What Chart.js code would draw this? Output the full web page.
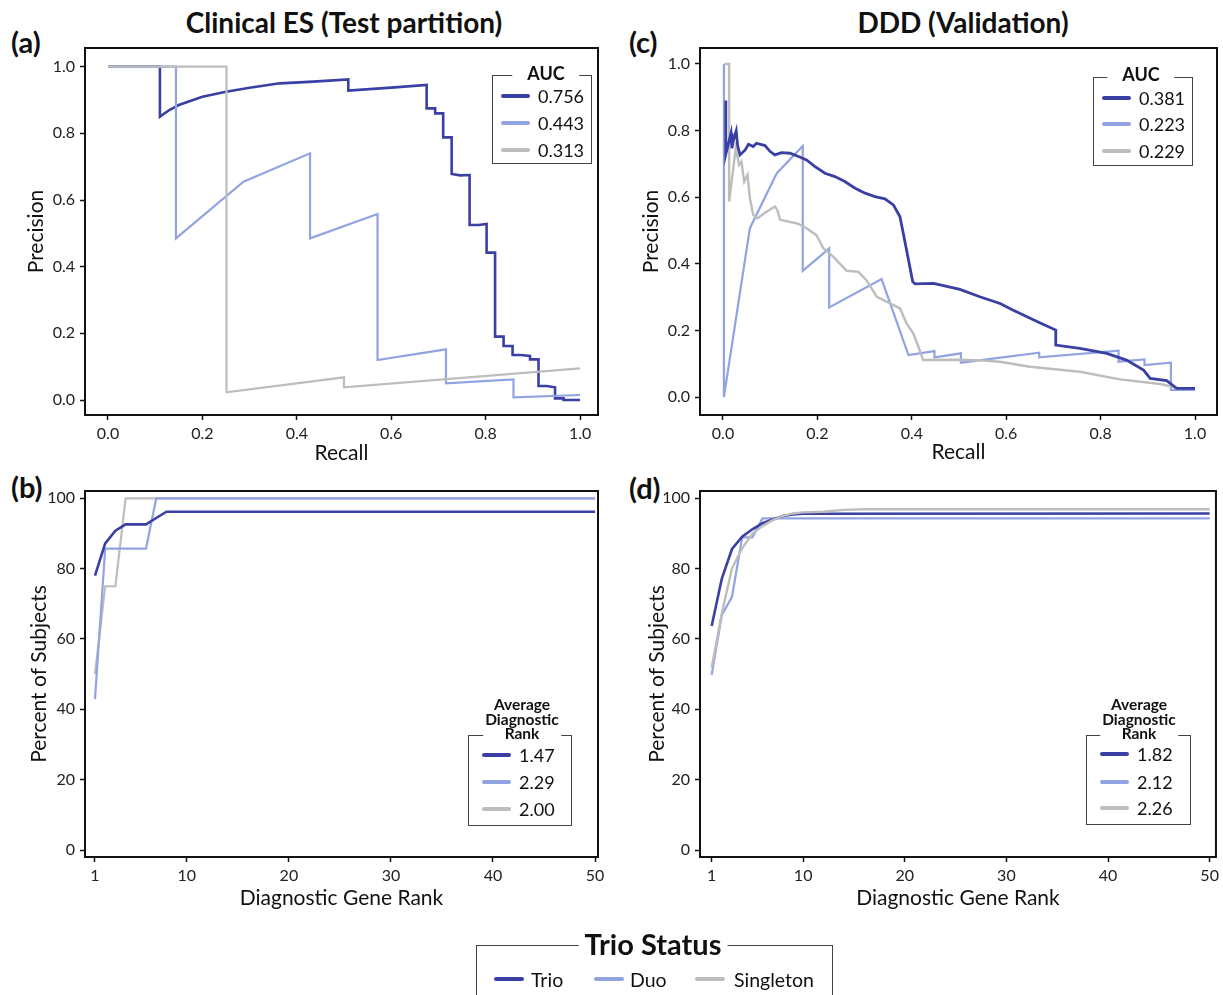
<!DOCTYPE html>
<html>
<head>
<meta charset="utf-8">
<script src="https://cdn.jsdelivr.net/npm/chart.js@4.4.1/dist/chart.umd.min.js"></script>
<style>
  body { margin: 0; background: #fff; font-family: Lato, sans-serif; color: #111; }
  #page { position: relative; width: 1223px; height: 995px; overflow: hidden; }
  .panel { position: absolute; }
  .title { position: absolute; font-weight: bold; font-size: 28px; white-space: nowrap; transform: translate(-50%, -50%); }
  .letter { position: absolute; font-weight: bold; font-size: 29px; transform: translateY(-50%); }
  .legend { position: absolute; border: 1.5px solid #444; box-sizing: border-box; }
  .legend .head { position: absolute; background: #fff; font-weight: bold; text-align: center; white-space: nowrap; transform: translate(-50%, -50%); }
  .legend .swatch { position: absolute; height: 4px; border-radius: 2px; transform: translateY(-50%); }
  .legend .lab { position: absolute; white-space: nowrap; transform: translateY(-50%); }
</style>
</head>
<body>
<div id="page">
  <div class="title" style="left:344px; top:22px;">Clinical ES (Test partition)</div>
  <div class="title" style="left:963px; top:22px;">DDD (Validation)</div>
  <div class="letter" style="left:11px; top:41px;">(a)</div>
  <div class="letter" style="left:629px; top:41px;">(c)</div>
  <div class="letter" style="left:11px; top:486px;">(b)</div>
  <div class="letter" style="left:629px; top:487px;">(d)</div>

  <div class="panel" style="left:0; top:0;"><canvas id="chartA" width="612" height="470"></canvas></div>
  <div class="panel" style="left:612px; top:0;"><canvas id="chartC" width="611" height="470"></canvas></div>
  <div class="panel" style="left:0; top:470px;"><canvas id="chartB" width="612" height="460"></canvas></div>
  <div class="panel" style="left:612px; top:470px;"><canvas id="chartD" width="611" height="460"></canvas></div>
</div>

<script>
// colours per trio status
const seriesNames = ['Trio', 'Duo', 'Singleton'];
const seriesColors = ['#3a3fa4', '#92a3e2', '#bdbdbd'];

// (a) Clinical ES, precision-recall
const aTrioRecall = [0, 0.110, 0.110, 0.13, 0.15, 0.2, 0.25, 0.3, 0.364, 0.435, 0.509, 0.509, 0.6, 0.675, 0.675, 0.693, 0.693, 0.710, 0.710, 0.728, 0.728, 0.746, 0.766, 0.766, 0.785, 0.802, 0.802, 0.820, 0.820, 0.838, 0.838, 0.857, 0.857, 0.874, 0.894, 0.894, 0.912, 0.912, 0.929, 0.947, 0.947, 0.965, 0.965, 1.0];
const aTrioPrecision = [1.0, 1.0, 0.85, 0.87, 0.885, 0.91, 0.925, 0.937, 0.95, 0.955, 0.962, 0.928, 0.937, 0.945, 0.875, 0.875, 0.86, 0.86, 0.788, 0.788, 0.678, 0.674, 0.675, 0.525, 0.525, 0.528, 0.442, 0.442, 0.19, 0.19, 0.162, 0.162, 0.135, 0.135, 0.132, 0.122, 0.122, 0.042, 0.042, 0.038, 0.005, 0.005, 0.0, 0.0];
const aDuoRecall = [0, 0.144, 0.144, 0.287, 0.428, 0.428, 0.571, 0.571, 0.716, 0.716, 0.859, 0.859, 1.0];
const aDuoPrecision = [1.0, 1.0, 0.485, 0.655, 0.74, 0.485, 0.558, 0.12, 0.152, 0.05, 0.062, 0.008, 0.015];
const aSingleRecall = [0, 0.251, 0.251, 0.50, 0.50, 1.0];
const aSinglePrecision = [1.0, 1.0, 0.023, 0.068, 0.038, 0.095];
const aAuc = ['0.756', '0.443', '0.313'];

// (c) DDD validation, precision-recall
const cTrioRecall = [0.006, 0.006, 0.017, 0.019, 0.022, 0.028, 0.031, 0.036, 0.047, 0.054, 0.064, 0.071, 0.089, 0.100, 0.110, 0.124, 0.142, 0.160, 0.177, 0.195, 0.216, 0.237, 0.258, 0.280, 0.301, 0.322, 0.343, 0.361, 0.375, 0.389, 0.402, 0.407, 0.446, 0.502, 0.544, 0.587, 0.614, 0.672, 0.705, 0.705, 0.756, 0.813, 0.855, 0.891, 0.905, 0.940, 0.961, 1.0];
const cTrioPrecision = [0.89, 0.729, 0.792, 0.747, 0.77, 0.799, 0.755, 0.727, 0.742, 0.759, 0.752, 0.762, 0.755, 0.737, 0.727, 0.734, 0.732, 0.722, 0.712, 0.692, 0.672, 0.662, 0.647, 0.627, 0.612, 0.602, 0.595, 0.577, 0.541, 0.441, 0.346, 0.34, 0.341, 0.323, 0.301, 0.281, 0.261, 0.222, 0.201, 0.156, 0.146, 0.131, 0.111, 0.081, 0.056, 0.049, 0.026, 0.026];
const cDuoRecall = [0.002, 0.002, 0.057, 0.114, 0.169, 0.169, 0.225, 0.225, 0.336, 0.393, 0.448, 0.448, 0.504, 0.504, 0.670, 0.670, 0.838, 0.838, 0.893, 0.893, 0.949, 0.949, 1.0];
const cDuoPrecision = [1.0, 0.0, 0.507, 0.672, 0.754, 0.379, 0.446, 0.269, 0.354, 0.126, 0.138, 0.119, 0.131, 0.103, 0.133, 0.119, 0.139, 0.106, 0.113, 0.096, 0.103, 0.021, 0.021];
const cSingleRecall = [0.003, 0.013, 0.013, 0.027, 0.034, 0.039, 0.045, 0.052, 0.057, 0.064, 0.073, 0.093, 0.110, 0.115, 0.121, 0.138, 0.160, 0.177, 0.198, 0.213, 0.234, 0.262, 0.287, 0.304, 0.326, 0.354, 0.375, 0.389, 0.403, 0.414, 0.424, 0.501, 0.544, 0.587, 0.650, 0.756, 0.841, 0.926, 0.968];
const cSinglePrecision = [1.0, 1.0, 0.587, 0.747, 0.697, 0.707, 0.647, 0.667, 0.597, 0.547, 0.537, 0.557, 0.572, 0.562, 0.532, 0.527, 0.52, 0.507, 0.486, 0.446, 0.421, 0.379, 0.376, 0.351, 0.301, 0.281, 0.266, 0.221, 0.191, 0.151, 0.111, 0.112, 0.110, 0.106, 0.091, 0.076, 0.053, 0.039, 0.026];
const cAuc = ['0.381', '0.223', '0.229'];

// (b) Clinical ES, cumulative percent of subjects by rank
const bTrioRank = [1, 2, 3, 4, 5, 6, 7, 8, 50];
const bTrioPercent = [78, 87.2, 90.8, 92.6, 92.6, 92.6, 94.4, 96.2, 96.2];
const bDuoRank = [1, 2, 3, 4, 5, 6, 7, 50];
const bDuoPercent = [42.9, 85.7, 85.7, 85.7, 85.7, 85.7, 100, 100];
const bSingleRank = [1, 2, 3, 4, 50];
const bSinglePercent = [50, 75, 75, 100, 100];
const bRankAvg = ['1.47', '2.29', '2.00'];

// (d) DDD validation, cumulative percent of subjects by rank
const dTrioRank = [1, 2, 3, 4, 5, 6, 7, 8, 9, 10, 50];
const dTrioPercent = [63.7, 77.2, 85.6, 89.1, 91.2, 92.9, 94.0, 95.0, 95.4, 95.6, 95.7];
const dDuoRank = [1, 2, 3, 4, 5, 6, 50];
const dDuoPercent = [49.8, 66.8, 72.0, 88.9, 88.9, 94.3, 94.3];
const dSingleRank = [1, 2, 3, 4, 5, 6, 7, 8, 9, 10, 12, 14, 16, 50];
const dSinglePercent = [51.9, 67.3, 80.1, 85.8, 90.0, 92.1, 93.8, 95.0, 95.7, 96.0, 96.2, 96.7, 96.9, 96.9];
const dRankAvg = ['1.82', '2.12', '2.26'];

// tick labels
const prTicks = [0, 0.2, 0.4, 0.6, 0.8, 1.0];
const rankTicks = [1, 10, 20, 30, 40, 50];
const percentTicks = [0, 20, 40, 60, 80, 100];

const FONT = 'Lato, sans-serif';

const framePlugin = {
  id: 'frame',
  afterDraw(chart) {
    const { ctx, chartArea: a } = chart;
    ctx.save();
    ctx.strokeStyle = '#111';
    ctx.lineWidth = 2;
    ctx.strokeRect(a.left, a.top, a.right - a.left, a.bottom - a.top);
    ctx.restore();
  }
};

function pts(xs, ys) {
  return xs.map((x, i) => ({ x: x, y: ys[i] }));
}

function makeSet(idx, xs, ys, width, order) {
  return {
    label: seriesNames[idx],
    data: pts(xs, ys),
    borderColor: seriesColors[idx],
    borderWidth: width,
    pointRadius: 0,
    tension: 0,
    fill: false,
    order: order
  };
}

function axis(opts) {
  return {
    type: 'linear',
    min: opts.min,
    max: opts.max,
    border: { display: false },
    grid: { display: true, drawOnChartArea: false, drawTicks: true, tickLength: 5, tickColor: '#111', tickWidth: 1.5 },
    ticks: { color: '#222', font: { family: FONT, size: 16 }, padding: opts.tickPad, callback: opts.fmt, autoSkip: false, maxRotation: 0 },
    afterBuildTicks: s => { s.ticks = opts.ticks.map(v => ({ value: v })); },
    afterFit: s => { if (opts.width !== undefined) s.width = opts.width; if (opts.height !== undefined) s.height = opts.height; },
    title: { display: true, text: opts.title, color: '#111', font: { family: FONT, size: 21 }, padding: opts.titlePad }
  };
}

function makeChart(id, datasets, xAxis, yAxis, padding) {
  new Chart(document.getElementById(id), {
    type: 'line',
    data: { datasets: datasets },
    options: {
      responsive: false,
      animation: false,
      devicePixelRatio: 1,
      layout: { padding: padding },
      plugins: { legend: { display: false }, tooltip: { enabled: false } },
      scales: { x: axis(xAxis), y: axis(yAxis) }
    },
    plugins: [framePlugin]
  });
}

const fmt1 = v => v.toFixed(1);
const fmt0 = v => String(v);

makeChart('chartA', [
  makeSet(2, aSingleRecall, aSinglePrecision, 2.2, 0),
  makeSet(1, aDuoRecall, aDuoPrecision, 2.2, 1),
  makeSet(0, aTrioRecall, aTrioPrecision, 2.6, 2)
],
{ min: -0.0487, max: 1.038, ticks: prTicks, fmt: fmt1, title: 'Recall', height: 55, tickPad: 4, titlePad: { bottom: 4 } },
{ min: -0.045, max: 1.056, ticks: prTicks, fmt: fmt1, title: 'Precision', width: 85, tickPad: 5, titlePad: { top: 24 } },
{ top: 48, right: 14, left: 0, bottom: 0 });

makeChart('chartC', [
  makeSet(0, cTrioRecall, cTrioPrecision, 2.8, 0),
  makeSet(2, cSingleRecall, cSinglePrecision, 2.4, 1),
  makeSet(1, cDuoRecall, cDuoPrecision, 2.2, 2)
],
{ min: -0.0487, max: 1.0466, ticks: prTicks, fmt: fmt1, title: 'Recall', height: 55, tickPad: 4, titlePad: { bottom: 5 } },
{ min: -0.054, max: 1.048, ticks: prTicks, fmt: fmt1, title: 'Precision', width: 88, tickPad: 5, titlePad: { top: 27 } },
{ top: 48, right: 6, left: 0, bottom: 0 });

makeChart('chartB', [
  makeSet(0, bTrioRank, bTrioPercent, 2.6, 0),
  makeSet(1, bDuoRank, bDuoPercent, 2.2, 1),
  makeSet(2, bSingleRank, bSinglePercent, 2.2, 2)
],
{ min: 0.021, max: 50.29, ticks: rankTicks, fmt: fmt0, title: 'Diagnostic Gene Rank', height: 73, tickPad: 4, titlePad: { bottom: 19 } },
{ min: -1.99, max: 102.08, ticks: percentTicks, fmt: fmt0, title: 'Percent of Subjects', width: 85, tickPad: 5, titlePad: { top: 27 } },
{ top: 21, right: 14, left: 0, bottom: 0 });

makeChart('chartD', [
  makeSet(2, dSingleRank, dSinglePercent, 2.4, 0),
  makeSet(0, dTrioRank, dTrioPercent, 2.6, 1),
  makeSet(1, dDuoRank, dDuoPercent, 2.2, 2)
],
{ min: -0.149, max: 50.62, ticks: rankTicks, fmt: fmt0, title: 'Diagnostic Gene Rank', height: 73, tickPad: 4, titlePad: { bottom: 19 } },
{ min: -1.99, max: 102.08, ticks: percentTicks, fmt: fmt0, title: 'Percent of Subjects', width: 88, tickPad: 5, titlePad: { top: 33 } },
{ top: 21, right: 6, left: 0, bottom: 0 });

// boxed legends with the title sitting in the top border
function legend(box) {
  const el = document.createElement('div');
  el.className = 'legend';
  Object.assign(el.style, { left: box.left + 'px', top: box.top + 'px', width: box.width + 'px', height: box.height + 'px' });
  const head = document.createElement('div');
  head.className = 'head';
  head.innerHTML = box.title.join('<br>');
  Object.assign(head.style, { left: box.titleX + 'px', top: box.titleY + 'px', fontSize: box.titleSize + 'px', lineHeight: box.titleLine + 'px', padding: '0 ' + box.titleGap + 'px' });
  el.appendChild(head);
  box.items.forEach((it, i) => {
    const sw = document.createElement('div');
    sw.className = 'swatch';
    Object.assign(sw.style, { left: it.lineX + 'px', top: it.y + 'px', width: box.lineW + 'px', background: seriesColors[i] });
    const lab = document.createElement('div');
    lab.className = 'lab';
    lab.textContent = it.text;
    Object.assign(lab.style, { left: it.textX + 'px', top: it.y + 'px', fontSize: box.fontSize + 'px' });
    el.appendChild(sw);
    el.appendChild(lab);
  });
  document.getElementById('page').appendChild(el);
}

function column(labels, ys, lineX, textX) {
  return labels.map((t, i) => ({ text: t, y: ys[i], lineX: lineX, textX: textX }));
}

legend({ left: 492, top: 75, width: 100, height: 89, title: ['AUC'], titleX: 53, titleY: -3, titleSize: 18, titleLine: 20, titleGap: 15,
  lineW: 29, fontSize: 18, items: column(aAuc, [20, 47, 74], 8, 45) });
legend({ left: 1093, top: 77, width: 100, height: 89, title: ['AUC'], titleX: 47, titleY: -4, titleSize: 18, titleLine: 20, titleGap: 15,
  lineW: 29, fontSize: 18, items: column(cAuc, [20, 46, 73], 8, 45) });
legend({ left: 468, top: 735, width: 104, height: 91, title: ['Average', 'Diagnostic', 'Rank'], titleX: 53, titleY: -17, titleSize: 15.5, titleLine: 14.5, titleGap: 2,
  lineW: 29, fontSize: 18, items: column(bRankAvg, [19, 46, 73], 13, 50) });
legend({ left: 1086, top: 735, width: 105, height: 90, title: ['Average', 'Diagnostic', 'Rank'], titleX: 52, titleY: -17, titleSize: 15.5, titleLine: 14.5, titleGap: 2,
  lineW: 29, fontSize: 18, items: column(dRankAvg, [18, 46, 72], 13, 50) });
legend({ left: 476, top: 945, width: 357, height: 70, title: ['Trio Status'], titleX: 176, titleY: -2, titleSize: 29, titleLine: 30, titleGap: 6,
  lineW: 30, fontSize: 19.5, items: [
    { text: seriesNames[0], y: 33, lineX: 17, textX: 54 },
    { text: seriesNames[1], y: 33, lineX: 117, textX: 153 },
    { text: seriesNames[2], y: 33, lineX: 218, textX: 257 }
  ] });
</script>
</body>
</html>
